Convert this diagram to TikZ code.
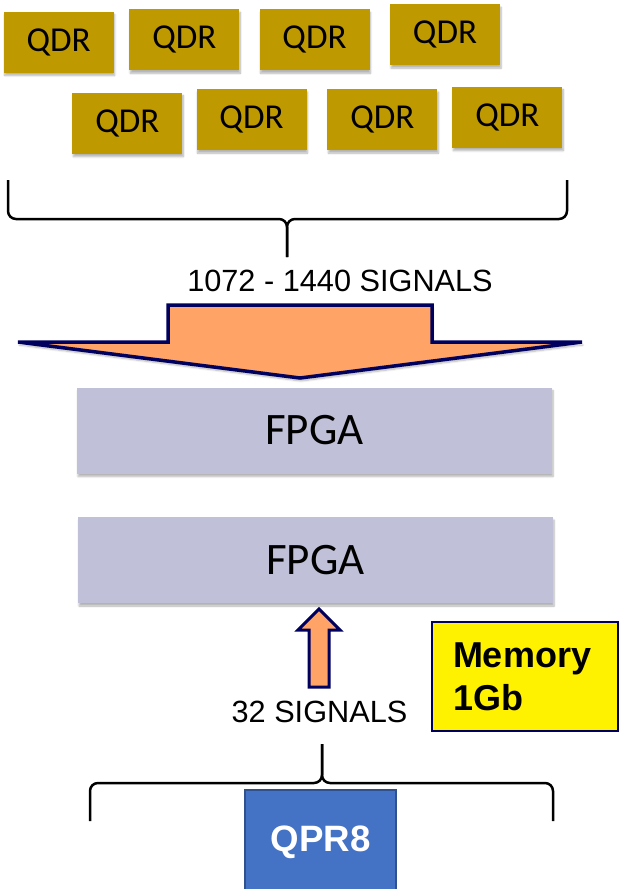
\documentclass[tikz,border=0pt]{standalone}
\usepackage{fontspec}
\setmainfont{Carlito}
\newfontfamily\arialfont{Liberation Sans}
\usetikzlibrary{shadows,shadows.blur}
\definecolor{qdrgold}{HTML}{BF9900}
\definecolor{fpgagrey}{HTML}{C0C0D8}
\definecolor{arroworange}{HTML}{FFA366}
\definecolor{navyline}{HTML}{00005E}
\definecolor{qprblue}{HTML}{4472C4}
\definecolor{qprline}{HTML}{2F528F}
\tikzset{
  softshadow/.style={blur shadow={shadow xshift=1pt, shadow yshift=-3pt, shadow blur steps=6, shadow opacity=30}},
  qdr/.style={fill=qdrgold, minimum width=110pt, minimum height=61pt, inner sep=0pt,
    font=\fontsize{35}{40}\selectfont, softshadow},
  fpga/.style={fill=fpgagrey, minimum width=475pt, minimum height=86pt, inner sep=0pt,
    font=\fontsize{45}{50}\selectfont, softshadow},
  signals/.style={font=\arialfont\fontsize{30.7}{34}\selectfont, inner sep=0pt},
  brace/.style={draw=black, line width=2.5pt, rounded corners=8pt},
  fatarrow/.style={draw=navyline, fill=arroworange, line width=3.5pt, line join=miter}
}
\begin{document}
\begin{tikzpicture}[x=1pt, y=-1pt]
  \useasboundingbox (0,0) rectangle (620,889);
  \node[qdr] (q1) at (58.7,42) {QDR};
  \node[qdr] (q2) at (184.3,39.8) {QDR};
  \node[qdr] (q3) at (314.5,39.8) {QDR};
  \node[qdr] (q4) at (445,34.6) {QDR};
  \node[qdr] (q5) at (127.3,123.2) {QDR};
  \node[qdr] (q6) at (251.5,119.6) {QDR};
  \node[qdr] (q7) at (382.4,119.6) {QDR};
  \node[qdr] (q8) at (507.3,117.2) {QDR};
  \draw[brace] (8,180) -- (8,219) -- (287,219) -- (287,257);
  \draw[brace] (567,180) -- (567,219) -- (287,219) -- (287,257);
  \node[signals] (sig1) at (340,281) {1072 - 1440 SIGNALS};
  \draw[fatarrow, softshadow] (168,305) -- (432,305) -- (432,342) -- (582,342)
    -- (300,378) -- (18,342) -- (168,342) -- cycle;
  \node[fpga] (fpga1) at (314.5,430.5) {FPGA};
  \node[fpga] (fpga2) at (315.5,560) {FPGA};
  \draw[fatarrow, line width=3pt] (309,687) -- (309,630) -- (298,630) -- (319,609)
    -- (340,630) -- (329,630) -- (329,687) -- cycle;
  \node[signals] (sig2) at (319.5,712) {32 SIGNALS};
  \node[draw=navyline, line width=1.5pt, fill=yellow, minimum width=186pt, minimum height=109pt,
    text width=144pt, inner xsep=21pt, align=left,
    font=\arialfont\bfseries\fontsize{36}{43}\selectfont] (mem) at (525,676.5) {Memory\\1Gb};
  \draw[brace] (90,821) -- (90,783) -- (322,783) -- (322,744);
  \draw[brace] (553,821) -- (553,783) -- (322,783) -- (322,744);
  \node[draw=qprline, line width=1.5pt, fill=qprblue, minimum width=151pt, minimum height=104pt,
    inner sep=0pt, text=white, font=\arialfont\bfseries\fontsize{36.7}{40}\selectfont] (qpr) at (320.5,842) {QPR8};
\end{tikzpicture}
\end{document}
